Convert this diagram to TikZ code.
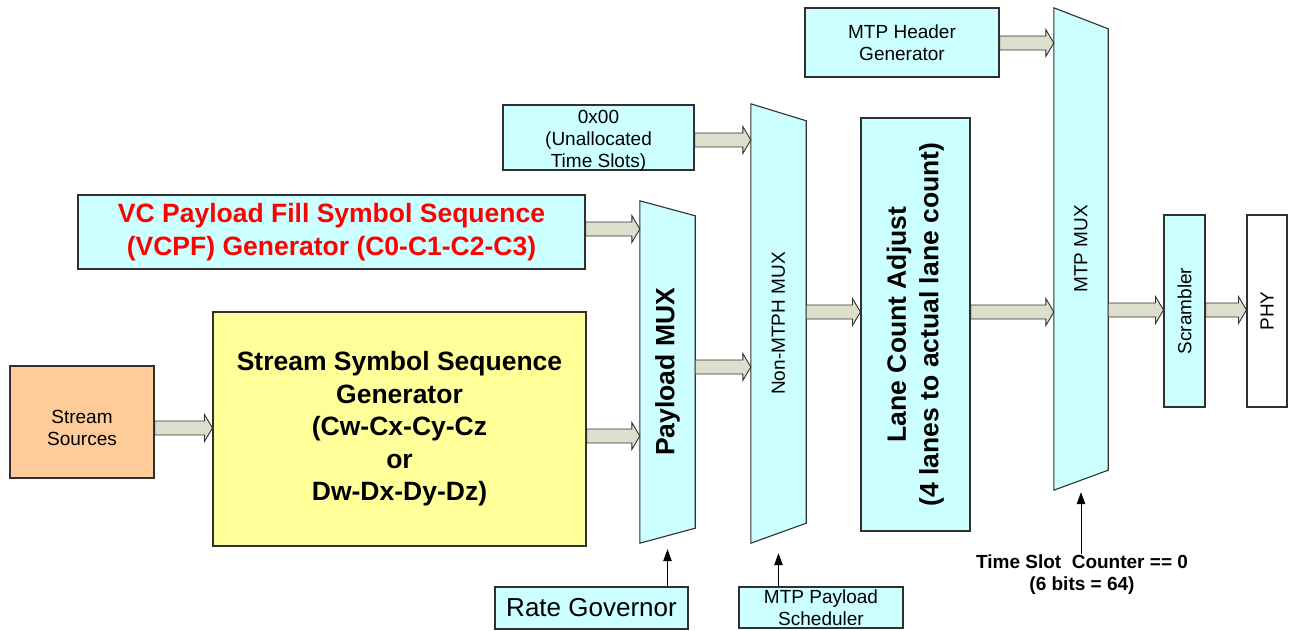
\documentclass[tikz,border=0pt]{standalone}
\usepackage{fontspec}
\setmainfont{Liberation Sans}
\usetikzlibrary{arrows.meta,calc}
\definecolor{cyanbox}{HTML}{CCFFFF}
\definecolor{yellowbox}{HTML}{FFFF99}
\definecolor{orangebox}{HTML}{FFCC99}
\definecolor{arrfill}{RGB}{221,222,204}
\definecolor{boxline}{HTML}{303030}
\newcommand\ftnorm{\fontsize{19}{22}\selectfont}
\newcommand\ftbig{\fontsize{26}{30}\selectfont}
\newcommand\ftbold{\fontsize{26.5}{32.5}\selectfont\bfseries}
\newcommand\ftsmb{\fontsize{19}{22}\selectfont\bfseries}
\newcommand\blockarr[3]{%
  \draw[blockarrow] let \p1=(#1), \p2=(#2) in
    (\x1,{-#3pt+7pt}) -- ({\x2-8pt},{-#3pt+7pt}) -- ({\x2-8pt},{-#3pt+13.5pt})
    -- (\x2,{-#3pt}) -- ({\x2-8pt},{-#3pt-13.5pt}) -- ({\x2-8pt},{-#3pt-7pt})
    -- (\x1,{-#3pt-7pt}) -- cycle;}
\begin{document}
\begin{tikzpicture}[x=1pt,y=-1pt,
  box/.style={draw=boxline, line width=1.1pt, inner sep=0pt, align=center, font=\ftnorm},
  txt/.style={inner sep=0pt, align=center, font=\ftnorm},
  muxbox/.style={inner sep=0pt, draw=none},
  muxshape/.style={draw=boxline, line width=1.1pt, fill=cyanbox},
  blockarrow/.style={draw=boxline, line width=0.9pt, fill=arrfill, line join=miter},
  thinarr/.style={draw=black, line width=0.9pt, -{Triangle[width=8.5pt,length=12pt]}}]
\useasboundingbox (0,0) rectangle (1289,631);

% rectangular blocks
\node[box, fill=orangebox, minimum width=144pt, minimum height=112pt] (ss) at (82,422) {};
\node[txt] (sstext) at ($(ss.center)+(0,6)$) {Stream\\Sources};
\node[box, fill=yellowbox, minimum width=373pt, minimum height=234pt, font=\ftbold] (ssg) at (399.5,429)
  {Stream Symbol Sequence\\Generator\\(Cw-Cx-Cy-Cz\\or\\Dw-Dx-Dy-Dz)};
\node[box, fill=cyanbox, minimum width=507pt, minimum height=74pt, font=\ftbold, text=red] (vcpf) at (331.5,232)
  {VC Payload Fill Symbol Sequence\\(VCPF) Generator (C0-C1-C2-C3)};
\node[box, fill=cyanbox, minimum width=191pt, minimum height=65pt] (zero) at (598.5,137.5) {};
\node[txt] (zerotext) at ($(zero.center)+(0,3)$) {0x00\\(Unallocated\\Time Slots)};
\node[box, fill=cyanbox, minimum width=194pt, minimum height=69pt] (hdr) at (902,42.5)
  {MTP Header\\Generator};
\node[box, fill=cyanbox, minimum width=109pt, minimum height=413pt] (lca) at (915.5,324.5)
  {\rotatebox{90}{\ftbold\begin{tabular}{@{}c@{}}Lane Count Adjust\\(4 lanes to actual lane count)\end{tabular}}};
\node[box, fill=cyanbox, minimum width=41pt, minimum height=192pt] (scr) at (1184.5,311)
  {\rotatebox{90}{Scrambler}};
\node[box, fill=white, minimum width=40pt, minimum height=192pt] (phy) at (1267,311)
  {\rotatebox{90}{PHY}};
\node[box, fill=cyanbox, minimum width=193pt, minimum height=42pt, font=\ftbig] (rg) at (591.5,608)
  {Rate Governor};
\node[box, fill=cyanbox, minimum width=164pt, minimum height=41pt] (sch) at (821,607.5)
  {MTP Payload\\Scheduler};

% multiplexers
\node[muxbox, minimum width=55pt, minimum height=342pt] (pmux) at (667.5,372) {};
\draw[muxshape] (pmux.north west) -- ($(pmux.north east)+(0,15)$) -- ($(pmux.south east)+(0,-15)$) -- (pmux.south west) -- cycle;
\node[font=\ftbold, inner sep=0pt] (pmuxtext) at (pmux.center) {\rotatebox{90}{Payload MUX}};

\node[muxbox, minimum width=55pt, minimum height=439pt] (nmux) at (778.5,323.5) {};
\draw[muxshape] (nmux.north west) -- ($(nmux.north east)+(0,17)$) -- ($(nmux.south east)+(0,-20)$) -- (nmux.south west) -- cycle;
\node[font=\ftnorm, inner sep=0pt] (nmuxtext) at (nmux.center) {\rotatebox{90}{Non-MTPH MUX}};

\node[muxbox, minimum width=54pt, minimum height=482pt] (mmux) at (1081,249) {};
\draw[muxshape] (mmux.north west) -- ($(mmux.north east)+(0,21)$) -- ($(mmux.south east)+(0,-20)$) -- (mmux.south west) -- cycle;
\node[font=\ftnorm, inner sep=0pt] (mmuxtext) at (mmux.center) {\rotatebox{90}{MTP MUX}};

% label
\node[font=\ftsmb, align=center, inner sep=1pt] (ts) at (1082,575) {Time Slot\ \ Counter == 0\\(6 bits = 64)};

% block arrows
\blockarr{ss.east}{ssg.west}{428}
\blockarr{vcpf.east}{pmux.west}{229}
\blockarr{ssg.east}{pmux.west}{436}
\blockarr{zero.east}{nmux.west}{140}
\blockarr{pmux.east}{nmux.west}{367}
\blockarr{nmux.east}{lca.west}{312}
\blockarr{lca.east}{mmux.west}{312}
\blockarr{hdr.east}{mmux.west}{43}
\blockarr{mmux.east}{scr.west}{310}
\blockarr{scr.east}{phy.west}{310}

% control arrows
\draw[thinarr] (rg.north -| pmux.south) -- ($(pmux.south)+(0,6)$);
\draw[thinarr] (sch.north -| nmux.south) -- ($(nmux.south)+(0,10)$);
\draw[thinarr] (ts.north -| mmux.south) -- ($(mmux.south)+(0,2)$);
\end{tikzpicture}
\end{document}
